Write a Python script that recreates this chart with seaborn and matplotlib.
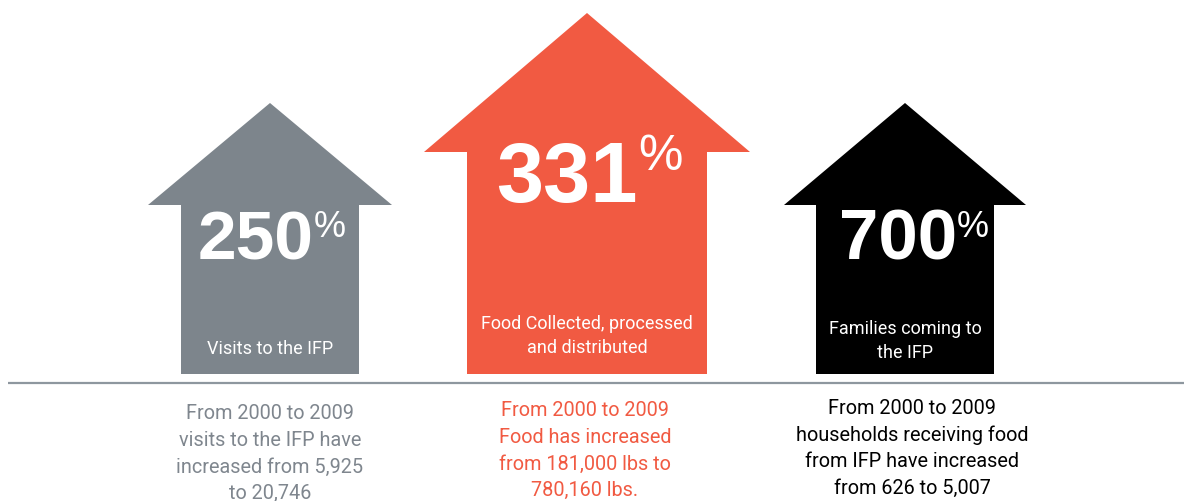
import matplotlib
matplotlib.use('Agg')
import matplotlib.pyplot as plt
from matplotlib.patches import Polygon
import seaborn as sns

# chart data
percents = ['250', '331', '700']
labels = ['Visits to the IFP', 'Food Collected, processed\nand distributed', 'Families coming to\nthe IFP']
details = [
    ['From 2000 to 2009', 'visits to the IFP have', 'increased from 5,925', 'to 20,746'],
    ['From 2000 to 2009', 'Food has increased', 'from 181,000 lbs to', '780,160 lbs.'],
    ['From 2000 to 2009', 'households receiving food', 'from IFP have increased', 'from 626 to 5,007'],
]
colors = ['#7d858c', '#f15a42', '#000000']
text_colors = ['#7f868e', '#f15a42', '#000000']

# arrow layout (pixels, y downward)
cx = [270, 587, 905]
body_half = [89, 120, 89]
head_half = [122, 163, 121]
shoulder_y = [206, 153, 206]
apex_y = [104, 14, 104]
bottom_y = 375
num_size = [50, 61, 51]
pct_size = [26, 36, 26]
num_base = [260, 202, 260]
pct_base = [237, 170, 237]
join_dx = [44, 51, 52]
label_y = [349, 336, 341]
detail_x = [270, 585, 912]
detail_y0 = [414, 411, 409]

sns.set_theme(style='white')
plt.rcParams['font.family'] = ['Roboto', 'DejaVu Sans']

fig = plt.figure(figsize=(11.84, 5.02), dpi=100)
ax = fig.add_axes([0, 0, 1, 1])
ax.set_xlim(0, 1184)
ax.set_ylim(502, 0)
ax.axis('off')

for i in range(3):
    c = cx[i]
    pts = [
        (c - body_half[i], bottom_y),
        (c - body_half[i], shoulder_y[i]),
        (c - head_half[i], shoulder_y[i]),
        (c, apex_y[i]),
        (c + head_half[i], shoulder_y[i]),
        (c + body_half[i], shoulder_y[i]),
        (c + body_half[i], bottom_y),
    ]
    ax.add_patch(Polygon(pts, closed=True, facecolor=colors[i], edgecolor='none'))

    jx = c + join_dx[i]
    ax.text(jx, num_base[i], percents[i], ha='right', va='baseline', color='white',
            fontsize=num_size[i], fontweight='bold', family=['Liberation Sans', 'DejaVu Sans'])
    ax.text(jx, pct_base[i], '%', ha='left', va='baseline', color='white',
            fontsize=pct_size[i], family=['Liberation Sans', 'DejaVu Sans'])

    ax.text(c, label_y[i], labels[i], ha='center', va='center', color='white',
            fontsize=13, linespacing=1.45)

    for j, line in enumerate(details[i]):
        ax.text(detail_x[i], detail_y0[i] + j * 26.5, line, ha='center', va='center',
                color=text_colors[i], fontsize=14.3)

ax.plot([8, 1184], [384, 384], color='#8e979f', lw=1.6, solid_capstyle='butt')

fig.savefig('out.png', dpi=100, facecolor='white')
